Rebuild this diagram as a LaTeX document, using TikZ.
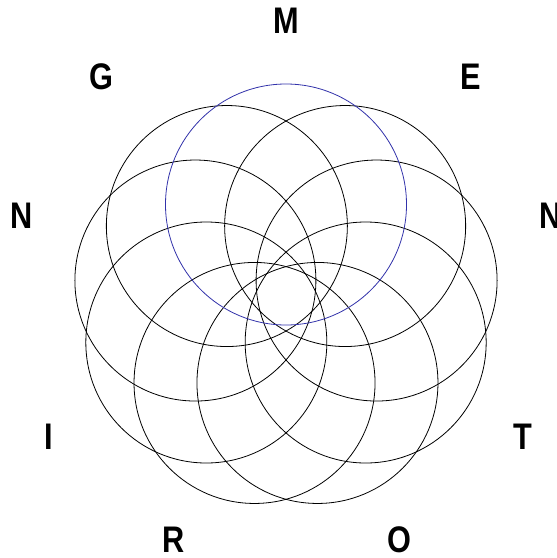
\documentclass[tikz,border=0pt]{standalone}
\usepackage{fontspec}
\usetikzlibrary{calc}
\setmainfont{Liberation Sans}
\definecolor{ringblue}{RGB}{50,50,170}
\begin{document}
\begin{tikzpicture}[x=1pt,y=-1pt,
  ring/.style={draw=black,line width=0.8pt},
  lett/.style={inner sep=0pt,font=\fontsize{37}{40}\selectfont\bfseries}]
\useasboundingbox (0,0) rectangle (557,558);
\coordinate (c) at (286,296.5);
\foreach \a in {50,10,-30,-70,-110,-150,170,130}{
  \draw[ring] ($(c)+(\a:92 and -92)$) circle[radius=120.5];
}
\draw[ring,draw=ringblue] (286,204.5) circle[radius=120.5];
\node[lett] (m) at (286,21) {\scalebox{0.83}[1]{M}};
\node[lett] (e) at (471,77) {\scalebox{0.83}[1]{E}};
\node[lett] (n1) at (550.5,216) {\scalebox{0.83}[1]{N}};
\node[lett] (t) at (523,437) {\scalebox{0.83}[1]{T}};
\node[lett] (o) at (399,540) {\scalebox{0.83}[1]{O}};
\node[lett] (r) at (174,540) {\scalebox{0.83}[1]{R}};
\node[lett] (i) at (49,437) {\scalebox{0.83}[1]{I}};
\node[lett] (n2) at (21.5,216) {\scalebox{0.83}[1]{N}};
\node[lett] (g) at (101,77) {\scalebox{0.83}[1]{G}};
\end{tikzpicture}
\end{document}
